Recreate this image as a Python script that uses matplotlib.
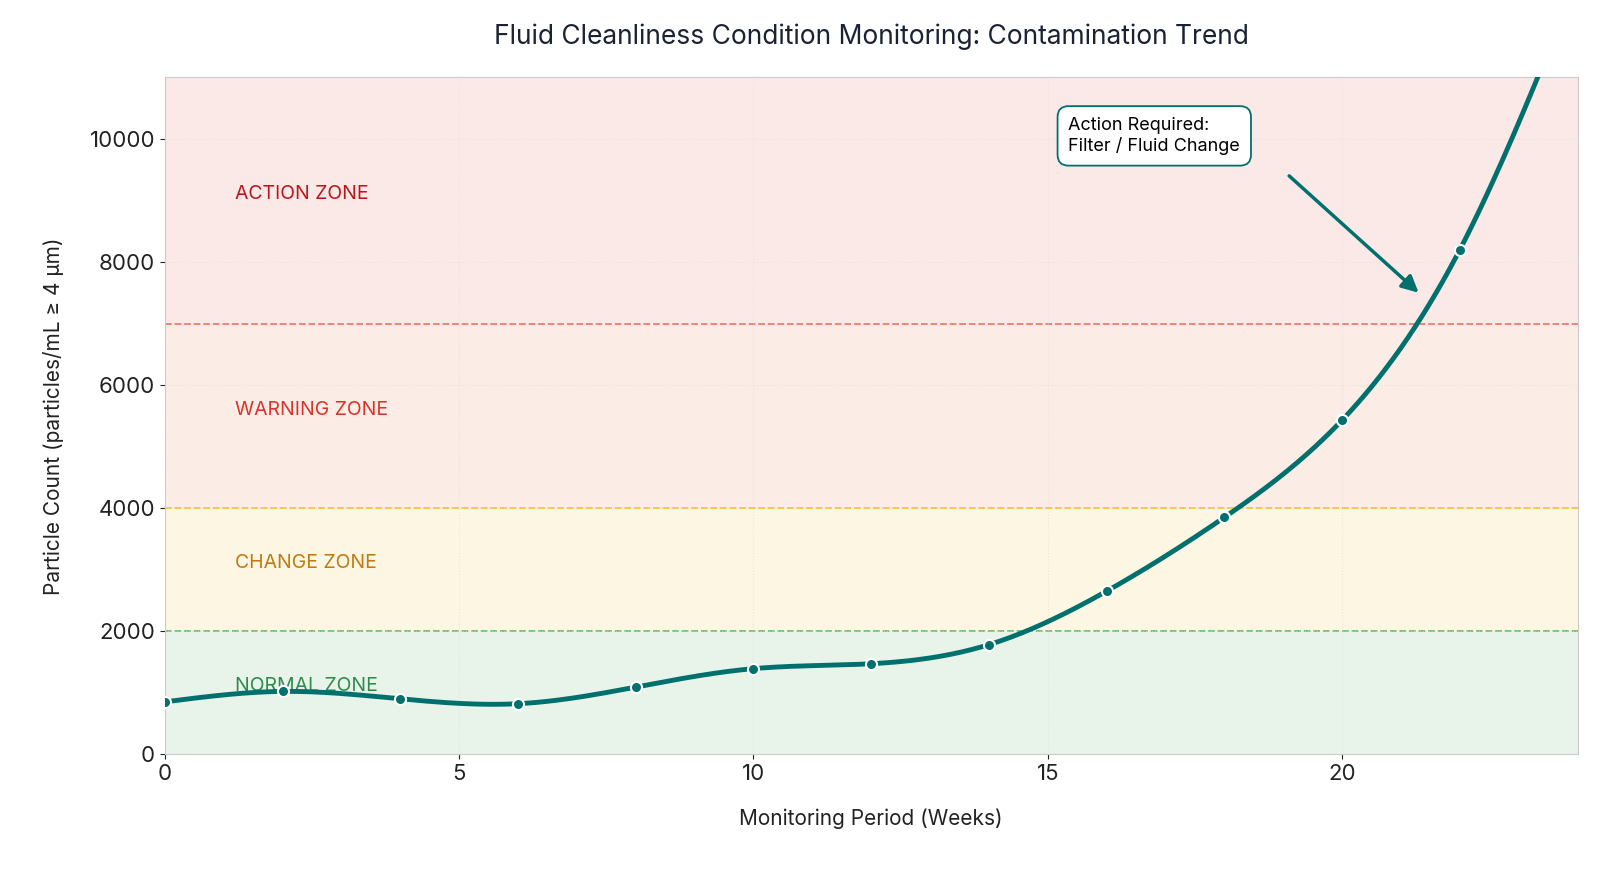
import numpy as np
import matplotlib.pyplot as plt

plt.rcParams['font.family'] = ['Inter', 'DejaVu Sans']

weeks = [0, 2, 4, 6, 8, 10, 12, 14, 16, 18, 20, 22, 24]
counts = [850, 1020, 900, 820, 1090, 1390, 1470, 1780, 2650, 3850, 5430, 8200, 12600]

zones = [(0, 2000, '#e8f3ea', 'NORMAL ZONE', '#2e8b4a', 1100),
         (2000, 4000, '#fdf6e3', 'CHANGE ZONE', '#c07a10', 3100),
         (4000, 7000, '#fcece6', 'WARNING ZONE', '#d9342b', 5600),
         (7000, 11000, '#fbe9e7', 'ACTION ZONE', '#c0141a', 9100)]
lines = [(2000, '#6abf6e'), (4000, '#f5c232'), (7000, '#ee7b72')]


def spline(x, y, xs):
    # natural cubic spline
    x = np.asarray(x, float); y = np.asarray(y, float)
    n = len(x); h = np.diff(x)
    A = np.zeros((n, n)); b = np.zeros(n)
    A[0, 0] = A[-1, -1] = 1
    for i in range(1, n - 1):
        A[i, i - 1] = h[i - 1]; A[i, i] = 2 * (h[i - 1] + h[i]); A[i, i + 1] = h[i]
        b[i] = 3 * ((y[i + 1] - y[i]) / h[i] - (y[i] - y[i - 1]) / h[i - 1])
    c = np.linalg.solve(A, b)
    out = []
    for t in xs:
        i = min(np.searchsorted(x, t, side='right') - 1, n - 2)
        d = t - x[i]
        bb = (y[i + 1] - y[i]) / h[i] - h[i] * (2 * c[i] + c[i + 1]) / 3
        dd = (c[i + 1] - c[i]) / (3 * h[i])
        out.append(y[i] + bb * d + c[i] * d ** 2 + dd * d ** 3)
    return np.array(out)


fig, ax = plt.subplots(figsize=(16, 8.8), dpi=100)
for lo, hi, col, lab, tc, ty in zones:
    ax.axhspan(lo, hi, color=col, zorder=0)
    ax.text(1.2, ty, lab, color=tc, fontsize=14, va='center', zorder=1)
for y, col in lines:
    ax.axhline(y, color=col, ls='--', lw=1.3, zorder=1)

xs = np.linspace(0, 24, 400)
ax.plot(xs, spline(weeks, counts, xs), color='#00706e', lw=3.5, zorder=3)
ax.plot(weeks, counts, 'o', color='#00706e', ms=8, mec='white', mew=1.5, zorder=4)

ax.text(15.35, 10050, 'Action Required:\nFilter / Fluid Change', fontsize=13, va='center', ha='left',
        bbox=dict(boxstyle='round,pad=0.6', fc='white', ec='#00706e', lw=1.3), zorder=5)
ax.annotate('', xy=(21.3, 7500), xytext=(19.1, 9400),
            arrowprops=dict(arrowstyle='-|>', color='#00706e', lw=2.5, mutation_scale=25,
                            shrinkA=0, shrinkB=0))

ax.set_xlim(0, 24)
ax.set_ylim(0, 11000)
ax.set_xticks([0, 5, 10, 15, 20])
ax.set_yticks(range(0, 11000, 2000))
ax.tick_params(labelsize=16, colors='#222222')
ax.grid(True, color='#dddddd', ls=':', lw=0.8, alpha=0.6)
for s in ax.spines.values():
    s.set_color('#cccccc')
ax.set_xlabel('Monitoring Period (Weeks)', fontsize=15, labelpad=18, color='#222222')
ax.set_ylabel('Particle Count (particles/mL ≥ 4 µm)', fontsize=15, labelpad=18, color='#222222')
ax.set_title('Fluid Cleanliness Condition Monitoring: Contamination Trend', fontsize=19,
             pad=24, color='#1a2233')
fig.subplots_adjust(left=0.103, right=0.986, top=0.912, bottom=0.143)
fig.savefig('out.png')
